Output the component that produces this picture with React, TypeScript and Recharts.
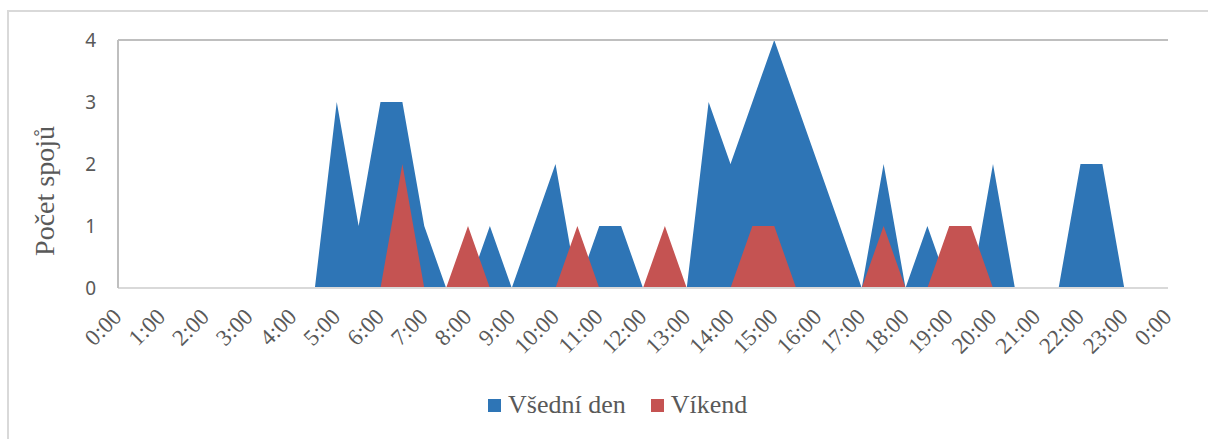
import React from "react";
import { AreaChart, Area, XAxis, YAxis, CartesianGrid, Legend, ReferenceLine } from "recharts";

const times = [
  "0:00", "0:30", "1:00", "1:30", "2:00", "2:30", "3:00", "3:30", "4:00", "4:30",
  "5:00", "5:30", "6:00", "6:30", "7:00", "7:30", "8:00", "8:30", "9:00", "9:30",
  "10:00", "10:30", "11:00", "11:30", "12:00", "12:30", "13:00", "13:30", "14:00", "14:30",
  "15:00", "15:30", "16:00", "16:30", "17:00", "17:30", "18:00", "18:30", "19:00", "19:30",
  "20:00", "20:30", "21:00", "21:30", "22:00", "22:30", "23:00", "23:30", "0:00",
];

const weekday = [
  0, 0, 0, 0, 0, 0, 0, 0, 0, 0,
  3, 1, 3, 3, 1, 0, 0, 1, 0, 1,
  2, 0, 1, 1, 0, 0, 0, 3, 2, 3,
  4, 3, 2, 1, 0, 2, 0, 1, 0, 0,
  2, 0, 0, 0, 2, 2, 0, 0, 0,
];

const weekend = [
  0, 0, 0, 0, 0, 0, 0, 0, 0, 0,
  0, 0, 0, 2, 0, 0, 1, 0, 0, 0,
  0, 1, 0, 0, 0, 1, 0, 0, 0, 1,
  1, 0, 0, 0, 0, 1, 0, 0, 1, 1,
  0, 0, 0, 0, 0, 0, 0, 0, 0,
];

const yTicks = [0, 1, 2, 3, 4];
const seriesNames = ["Všední den", "Víkend"];
const seriesColors = ["#2E75B6", "#C55352"];

const data = times.map((t, i) => ({ time: t, weekday: weekday[i], weekend: weekend[i] }));

const TEXT = "#595959";
const SERIF = "'Liberation Serif', 'Times New Roman', serif";

const XTick = (props: any) => {
  const { x, y, payload } = props;
  const ax = x + 5;
  const ay = y + 30;
  return (
    <text
      x={ax}
      y={ay}
      textAnchor="end"
      fill={TEXT}
      fontFamily={SERIF}
      fontSize={23}
      transform={`rotate(-45, ${ax}, ${ay})`}
    >
      {payload.value}
    </text>
  );
};

const YTick = (props: any) => {
  const { y, payload } = props;
  return (
    <text x={96} y={y + 7} textAnchor="end" fill={TEXT} fontFamily="'Noto Sans', sans-serif" fontSize={19}>
      {payload.value}
    </text>
  );
};

const LegendContent = () => (
  <div style={{ display: "flex", alignItems: "center", fontFamily: SERIF, fontSize: 26, color: TEXT, whiteSpace: "nowrap" }}>
    {seriesNames.map((n, i) => (
      <div key={n} style={{ display: "flex", alignItems: "center", marginRight: i === 0 ? 25 : 0 }}>
        <span style={{ display: "inline-block", width: 13, height: 13, background: seriesColors[i], marginRight: 7 }} />
        <span>{n}</span>
      </div>
    ))}
  </div>
);

export default function App() {
  return (
    <div style={{ position: "absolute", left: 0, top: 0, width: 1208, height: 439, background: "#fff", overflow: "hidden" }}>
      <div style={{ position: "absolute", left: 7, top: 10, width: 1300, height: 500, borderLeft: "2px solid #D9D9D9", borderTop: "2px solid #D9D9D9" }} />
      <AreaChart
        width={1208}
        height={439}
        data={data}
        margin={{ top: 40, right: 40, left: 0, bottom: 0 }}
        style={{ position: "absolute", left: 0, top: 0 }}
      >
        <CartesianGrid horizontal vertical={false} stroke="#D9D9D9" strokeWidth={2} />
        <XAxis
          dataKey="time"
          interval={1}
          height={151}
          tick={<XTick />}
          tickLine={false}
          tickSize={0}
          tickMargin={0}
          axisLine={{ stroke: "#D9D9D9", strokeWidth: 2 }}
        />
        <YAxis
          yAxisId="left"
          domain={[0, 4]}
          ticks={yTicks}
          width={118}
          tick={<YTick />}
          tickLine={false}
          axisLine={{ stroke: "#BFBFBF", strokeWidth: 2 }}
          label={{
            content: () => (
              <text
                x={54}
                y={191}
                textAnchor="middle"
                fill={TEXT}
                fontFamily={SERIF}
                fontSize={28}
                transform="rotate(-90, 54, 191)"
              >
                Počet spojů
              </text>
            ),
          }}
        />
        <YAxis
          yAxisId="right"
          orientation="right"
          domain={[0, 4]}
          width={0}
          tick={false}
          tickLine={false}
          axisLine={{ stroke: "#BFBFBF", strokeWidth: 2 }}
        />
        <ReferenceLine yAxisId="left" y={4} stroke="#BFBFBF" strokeWidth={2} />
        <Area
          yAxisId="left"
          type="linear"
          dataKey="weekday"
          name={seriesNames[0]}
          stroke="none"
          fill={seriesColors[0]}
          fillOpacity={1}
          isAnimationActive={false}
        />
        <Area
          yAxisId="left"
          type="linear"
          dataKey="weekend"
          name={seriesNames[1]}
          stroke="none"
          fill={seriesColors[1]}
          fillOpacity={1}
          isAnimationActive={false}
        />
        <Legend
          layout="horizontal"
          verticalAlign="middle"
          align="center"
          content={<LegendContent />}
          wrapperStyle={{ position: "absolute", left: 488, top: 390, width: 300, height: 36 }}
        />
      </AreaChart>
    </div>
  );
}
